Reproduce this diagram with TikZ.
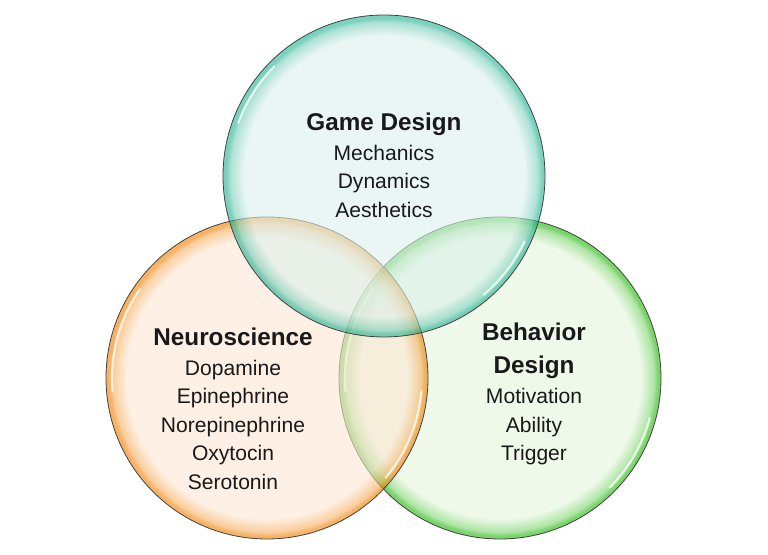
\documentclass[tikz,border=0pt]{standalone}
\usepackage{fontspec}
\setmainfont{Liberation Sans}

\definecolor{gamein}{HTML}{DCF0EB}
\definecolor{gameout}{HTML}{22B292}
\definecolor{neuroin}{HTML}{FDE6D2}
\definecolor{neuroout}{HTML}{F08000}
\definecolor{behavin}{HTML}{E3F5DC}
\definecolor{behavout}{HTML}{22B80A}

% glossy rims of the three sets
\pgfdeclareradialshading{gamering}{\pgfpoint{0bp}{0bp}}{color(0bp)=(gamein); color(21.8bp)=(gamein); color(23.9bp)=(gameout!55!gamein); color(24.5bp)=(gameout); color(25bp)=(gameout); color(50bp)=(gameout)}
\pgfdeclareradialshading{neuroring}{\pgfpoint{0bp}{0bp}}{color(0bp)=(neuroin); color(21.8bp)=(neuroin); color(23.9bp)=(neuroout!55!neuroin); color(24.5bp)=(neuroout); color(25bp)=(neuroout); color(50bp)=(neuroout)}
\pgfdeclareradialshading{behavring}{\pgfpoint{0bp}{0bp}}{color(0bp)=(behavin); color(21.8bp)=(behavin); color(23.9bp)=(behavout!55!behavin); color(24.5bp)=(behavout); color(25bp)=(behavout); color(50bp)=(behavout)}

\begin{document}
\begin{tikzpicture}[x=0.75pt,y=-0.75pt,
    venn/.style={draw=black!75, line width=0.6pt, fill opacity=0.6},
    shine/.style={white, line width=1.6pt, opacity=0.75, line cap=round},
    block/.style={align=center, inner sep=0pt, text=black!90,
        font=\fontsize{15.8}{21.4}\selectfont}]
    \useasboundingbox (0,0) rectangle (768,555);

    \coordinate (game) at (384,176);
    \coordinate (neuro) at (267,378);
    \coordinate (behav) at (500,378);

    % Draw set Behavior Design
    \shadedraw [venn, shading=behavring] (behav) circle (161);
    \draw [shine] (behav) ++(175:155) arc[start angle=175, end angle=215, radius=155];
    \draw [shine] (behav) ++(15:155) arc[start angle=15, end angle=45, radius=155];

    % Draw set Neuroscience
    \shadedraw [venn, shading=neuroring] (neuro) circle (161);
    \draw [shine] (neuro) ++(175:155) arc[start angle=175, end angle=215, radius=155];
    \draw [shine] (neuro) ++(5:155) arc[start angle=5, end angle=40, radius=155];

    % Draw set Game Design
    \shadedraw [venn, shading=gamering] (game) circle (161);
    \draw [shine] (game) ++(200:155) arc[start angle=200, end angle=225, radius=155];
    \draw [shine] (game) ++(25:155) arc[start angle=25, end angle=50, radius=155];

    % Labels
    \node [block] (gametext) at (384,165)
        {{\bfseries\fontsize{18.2}{22}\selectfont Game Design}\\[1.1pt]Mechanics\\Dynamics\\Aesthetics};
    \node [block] (neurotext) at (233,408.5)
        {{\bfseries\fontsize{18.2}{22}\selectfont Neuroscience}\\[1.1pt]Dopamine\\Epinephrine\\Norepinephrine\\Oxytocin\\Serotonin};
    \node [block] (behavtext) at (534,394)
        {{\bfseries\fontsize{18.2}{22}\selectfont Behavior}\\[3.3pt]{\bfseries\fontsize{18.2}{22}\selectfont Design}\\[1.1pt]Motivation\\Ability\\Trigger};
\end{tikzpicture}
\end{document}
